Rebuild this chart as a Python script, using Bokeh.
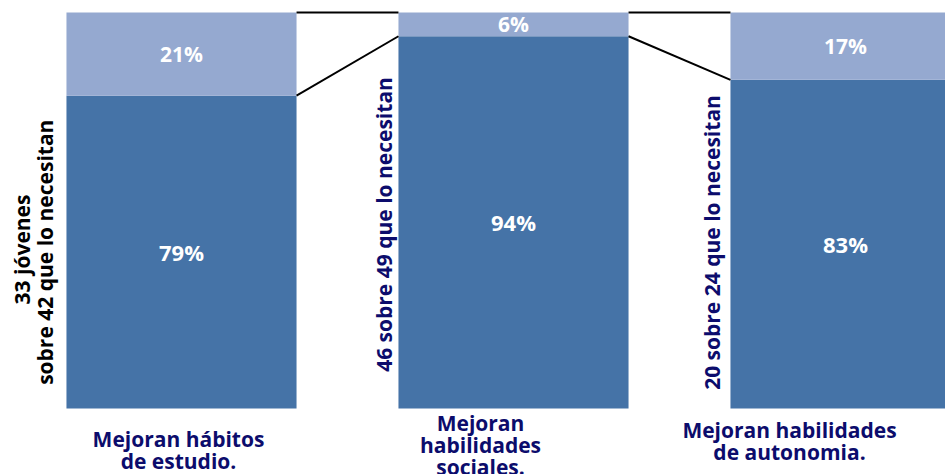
import math
from bokeh.plotting import figure
from bokeh.models import Range1d
from bokeh.core.properties import value
from bokeh.embed import file_html
from bokeh.resources import INLINE

# ---- data ----
categories = [["Mejoran hábitos", "de estudio."],
              ["Mejoran", "habilidades", "sociales."],
              ["Mejoran habilidades", "de autonomia."]]
improved = [79, 94, 83]
not_improved = [21, 6, 17]
improved_labels = ["79%", "94%", "83%"]
not_improved_labels = ["21%", "6%", "17%"]
side_notes = [["33 jóvenes", "sobre 42  que lo necesitan"],
              ["46 sobre 49 que lo necesitan"],
              ["20 sobre 24 que lo necesitan"]]

# ---- style ----
DARK = "#4573a7"
LIGHT = "#95a9d0"
NAVY = "#0c0c6c"
FONT = "Open Sans"
W = 0.693
PX = 332.0  # px per x unit
PY = 3.96   # px per y unit

W_FIG, H_FIG = 945, 474
x0 = (0 - 181) / PX
x1 = x0 + W_FIG / PX
y1 = 408 / PY
y0 = y1 - H_FIG / PY

p = figure(width=W_FIG, height=H_FIG, output_backend="svg", toolbar_location=None,
           x_range=Range1d(x0, x1), y_range=Range1d(y0, y1), min_border=0)
p.axis.visible = False
p.grid.visible = False
p.outline_line_color = None
p.background_fill_color = "white"

xs = list(range(len(improved)))
tops = [a + b for a, b in zip(improved, not_improved)]
p.vbar(x=xs, width=W, bottom=0, top=improved, fill_color=DARK, line_color=None)
p.vbar(x=xs, width=W, bottom=improved, top=tops, fill_color=LIGHT, line_color=None)

# connector lines
for i in range(len(xs) - 1):
    p.line([xs[i] + W / 2, xs[i + 1] - W / 2], [improved[i], improved[i + 1]],
           line_color="black", line_width=2)
    p.line([xs[i] + W / 2, xs[i + 1] - W / 2], [tops[i], tops[i + 1]],
           line_color="black", line_width=2)

# percent labels
p.text(x=xs, y=[v / 2 for v in improved], text=improved_labels,
       text_font=value(FONT), text_font_style="bold", text_font_size="22px",
       text_color="white", text_align="center", text_baseline="middle")
p.text(x=xs, y=[a + b / 2 for a, b in zip(improved, not_improved)], text=not_improved_labels,
       text_font=value(FONT), text_font_style="bold", text_font_size="21px",
       text_color="white", text_align="center", text_baseline="middle")

# side notes (rotated)
note_px = [[21, 44], [383], [711]]
note_py = [249, 224, 242]
note_col = ["black", NAVY, NAVY]
for i, lines in enumerate(side_notes):
    for j, line in enumerate(lines):
        p.text(x=[(note_px[i][j] - 181) / PX], y=[(408 - note_py[i]) / PY], text=[line],
               angle=math.pi / 2, text_font=value(FONT), text_font_style="bold",
               text_font_size="21px", text_color=note_col[i],
               text_align="center", text_baseline="middle")

# category labels
cat_cx = [178, 480, 789]
cat_y0 = [438, 422, 429]
for i, lines in enumerate(categories):
    for j, line in enumerate(lines):
        p.text(x=[(cat_cx[i] - 181) / PX], y=[(408 - (cat_y0[i] + 22 * j)) / PY], text=[line],
               text_font=value(FONT), text_font_style="bold", text_font_size="21px",
               text_color=NAVY, text_align="center", text_baseline="middle")

open("out.html", "w").write(file_html(p, INLINE))
